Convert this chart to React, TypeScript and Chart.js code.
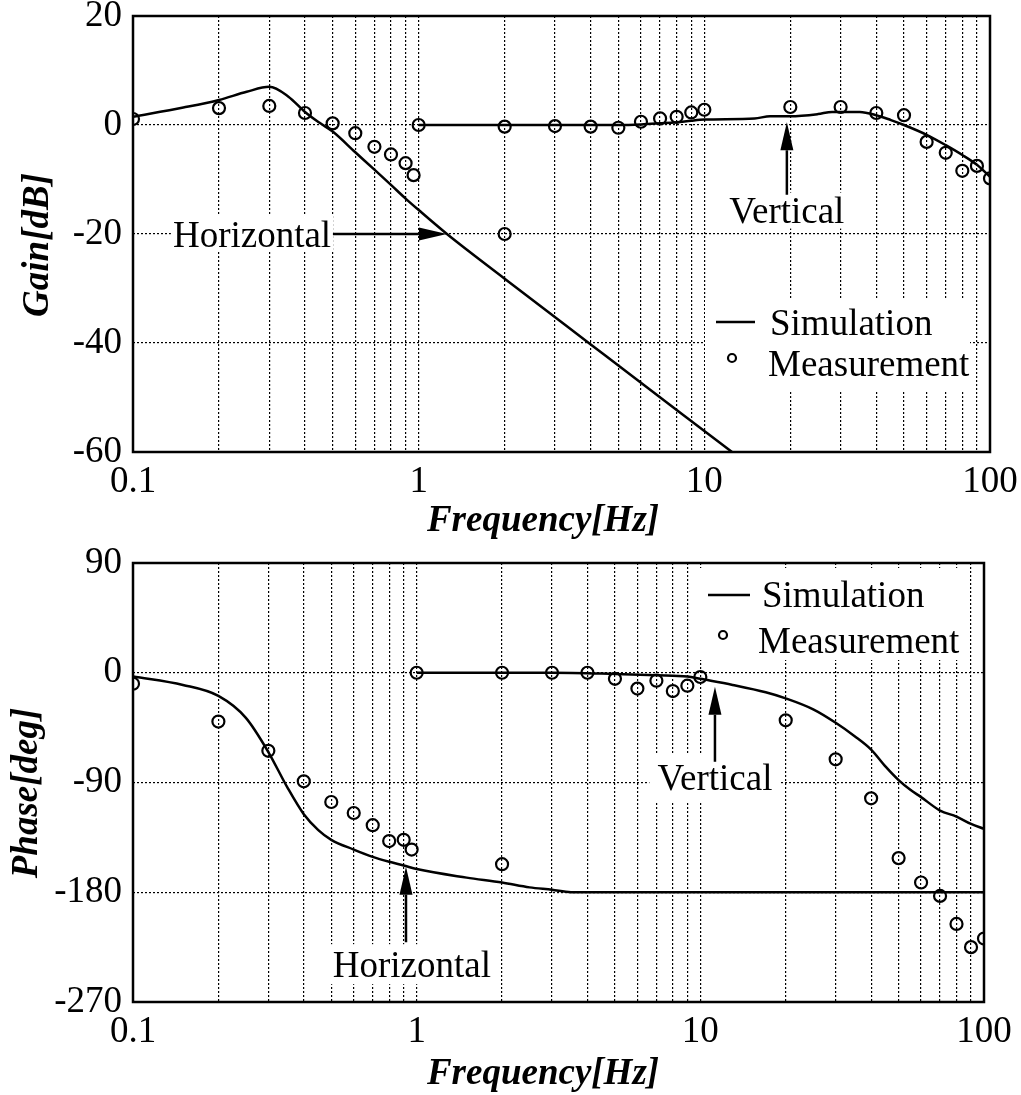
import React, { useEffect, useRef } from 'react';
import { Chart, registerables } from 'chart.js';

Chart.register(...registerables);

const SERIF = '"Liberation Serif", "Times New Roman", Times, serif';

// ---------- axes ----------
const xGridValues = [0.1, 0.2, 0.3, 0.4, 0.5, 0.6, 0.7, 0.8, 0.9, 1, 2, 3, 4, 5, 6, 7, 8, 9, 10, 20, 30, 40, 50, 60, 70, 80, 90, 100];
const xMajorValues = [0.1, 1, 10, 100];
const xTickLabels = ['0.1', '1', '10', '100'];
const gainTicks = [-60, -40, -20, 0, 20];
const phaseTicks = [-270, -180, -90, 0, 90];

// ---------- Gain: simulation ----------
const gainSimHFreq = [0.1, 0.15, 0.2, 0.25, 0.3, 0.35, 0.4, 0.45, 0.5, 0.6, 0.7, 0.8, 0.9, 1, 1.256, 2, 3.94, 8, 12.5];
const gainSimH = [1.5, 3.2, 4.6, 6.1, 7.0, 5.2, 2.4, 0.4, -1.2, -5.0, -8.2, -11.0, -13.5, -15.6, -20, -28.2, -40, -52.3, -60];
const gainSimVFreq = [1, 3, 5, 6, 7, 8, 9, 10, 15, 17, 20, 25, 28, 35, 40, 45, 50, 60, 70, 80, 90, 100];
const gainSimV = [0, 0, 0, 0.1, 0.3, 0.5, 0.8, 1.0, 1.2, 1.6, 1.6, 2.0, 2.4, 2.4, 1.8, 0.9, 0, -1.8, -3.7, -5.5, -7.3, -9.5];

// ---------- Gain: measurement ----------
const gainMeasHFreq = [0.1, 0.2, 0.3, 0.4, 0.5, 0.6, 0.7, 0.8, 0.9, 0.96, 2];
const gainMeasH = [1.1, 3.1, 3.5, 2.2, 0.3, -1.5, -4, -5.4, -7, -9.2, -20];
const gainMeasVFreq = [1, 2, 3, 4, 5, 6, 7, 8, 9, 10, 20, 30, 40, 50, 60, 70, 80, 90, 100];
const gainMeasV = [0, -0.3, -0.2, -0.3, -0.5, 0.6, 1.2, 1.5, 2.3, 2.8, 3.3, 3.3, 2.2, 1.8, -3.1, -5.1, -8.4, -7.5, -9.8];

// ---------- Phase: simulation ----------
const phaseSimHFreq = [0.1, 0.15, 0.2, 0.25, 0.3, 0.35, 0.4, 0.45, 0.5, 0.6, 0.7, 0.8, 0.9, 1, 1.5, 2, 2.5, 3, 3.5, 100];
const phaseSimH = [-3, -10, -19, -37, -65, -94, -116, -129, -137, -145, -151, -155, -158, -161, -168, -172, -176, -178, -180, -180];
const phaseSimVFreq = [1, 3, 5, 7, 9, 10, 13, 17, 20, 25, 30, 35, 40, 45, 50, 55, 60, 70, 80, 90, 100];
const phaseSimV = [0, 0, -1, -2, -3, -5, -10, -16, -21, -30, -41, -52, -63, -77, -88, -96, -102, -113, -118, -124, -128];

// ---------- Phase: measurement ----------
const phaseMeasHFreq = [0.1, 0.2, 0.3, 0.4, 0.5, 0.6, 0.7, 0.8, 0.9, 0.96, 2];
const phaseMeasH = [-9, -40, -64, -89, -106, -115, -125, -138, -137, -145, -157];
const phaseMeasVFreq = [1, 2, 3, 4, 5, 6, 7, 8, 9, 10, 20, 30, 40, 50, 60, 70, 80, 90, 100];
const phaseMeasV = [0, 0, 0, 0, -5, -13, -6.5, -15, -10.6, -3.5, -39, -71, -103, -152, -172, -183, -206, -225, -218];

// ---------- labels ----------
const legendLabels = ['Simulation', 'Measurement'];

const pts = (xs: number[], ys: number[]) => xs.map((x, i) => ({ x, y: ys[i] }));

type Annot = { text: string; tx: number; ty: number; ax0: number; ay0: number; ax1: number; ay1: number; padX: number; padY: number };

type Spec = {
  height: number;
  padTop: number;
  padRight: number;
  xAxisHeight: number;
  yMin: number;
  yMax: number;
  yTicks: number[];
  simH: { x: number; y: number }[];
  simV: { x: number; y: number }[];
  measH: { x: number; y: number }[];
  measV: { x: number; y: number }[];
  yTitle: string;
  yTitleX: number;
  yTitleY: number;
  xTitleX: number;
  xTitleY: number;
  annots: Annot[];
  legend: { box: number[]; line: number[]; simText: number[]; circle: number[]; measText: number[] };
};

function drawArrow(ctx: CanvasRenderingContext2D, x0: number, y0: number, x1: number, y1: number) {
  const len = Math.hypot(x1 - x0, y1 - y0);
  const ux = (x1 - x0) / len, uy = (y1 - y0) / len;
  const hl = 28, hw = 6.5;
  const bx = x1 - ux * hl, by = y1 - uy * hl;
  ctx.save();
  ctx.strokeStyle = '#000';
  ctx.fillStyle = '#000';
  ctx.lineWidth = 2.5;
  ctx.beginPath();
  ctx.moveTo(x0, y0);
  ctx.lineTo(bx, by);
  ctx.stroke();
  ctx.beginPath();
  ctx.moveTo(x1, y1);
  ctx.lineTo(bx - uy * hw, by + ux * hw);
  ctx.lineTo(bx + uy * hw, by - ux * hw);
  ctx.closePath();
  ctx.fill();
  ctx.restore();
}

function makeDecor(spec: Spec) {
  return {
    id: 'decor',
    beforeDatasetsDraw(chart: any) {
      const { ctx } = chart;
      const xs = chart.scales.x, ys = chart.scales.y;
      ctx.save();
      ctx.fillStyle = '#fff';
      ctx.font = `37px ${SERIF}`;
      for (const a of spec.annots) {
        const w = ctx.measureText(a.text).width;
        const cx = xs.getPixelForValue(a.tx), cy = ys.getPixelForValue(a.ty);
        ctx.fillRect(cx - w / 2 - a.padX, cy - 18 - a.padY, w + 2 * a.padX, 36 + 2 * a.padY);
      }
      const b = spec.legend.box;
      ctx.fillRect(b[0], b[1], b[2], b[3]);
      ctx.restore();
    },
    afterDraw(chart: any) {
      const { ctx, chartArea } = chart;
      const xs = chart.scales.x, ys = chart.scales.y;
      ctx.save();
      // frame
      ctx.strokeStyle = '#000';
      ctx.lineWidth = 2.5;
      ctx.strokeRect(chartArea.left, chartArea.top, chartArea.right - chartArea.left, chartArea.bottom - chartArea.top);
      // annotations
      ctx.fillStyle = '#000';
      ctx.font = `37px ${SERIF}`;
      ctx.textAlign = 'center';
      ctx.textBaseline = 'alphabetic';
      for (const a of spec.annots) {
        const cx = xs.getPixelForValue(a.tx), cy = ys.getPixelForValue(a.ty);
        ctx.fillText(a.text, cx, cy + 12.5);
        drawArrow(ctx, xs.getPixelForValue(a.ax0), ys.getPixelForValue(a.ay0), xs.getPixelForValue(a.ax1), ys.getPixelForValue(a.ay1));
      }
      // legend
      const L = spec.legend;
      ctx.strokeStyle = '#000';
      ctx.lineWidth = 2.5;
      ctx.beginPath();
      ctx.moveTo(L.line[0], L.line[2]);
      ctx.lineTo(L.line[1], L.line[2]);
      ctx.stroke();
      ctx.lineWidth = 2.2;
      ctx.beginPath();
      ctx.arc(L.circle[0], L.circle[1], 4, 0, Math.PI * 2);
      ctx.stroke();
      ctx.textAlign = 'left';
      ctx.fillText(legendLabels[0], L.simText[0], L.simText[1]);
      ctx.fillText(legendLabels[1], L.measText[0], L.measText[1]);
      // axis titles
      ctx.font = `italic bold 37px ${SERIF}`;
      ctx.textAlign = 'center';
      ctx.fillText('Frequency[Hz]', spec.xTitleX, spec.xTitleY);
      ctx.translate(spec.yTitleX, spec.yTitleY);
      ctx.rotate(-Math.PI / 2);
      ctx.fillText(spec.yTitle, 0, 0);
      ctx.restore();
    },
  };
}

function buildConfig(spec: Spec): any {
  const gridOpts = { color: '#000', lineWidth: 1.2, drawTicks: false };
  const borderOpts = { display: false, dash: [2, 2] };
  const tickFont = { family: SERIF, size: 37 };
  const simStyle = { showLine: true, borderColor: '#000', borderWidth: 2.5, pointRadius: 0, cubicInterpolationMode: 'monotone', fill: false };
  const measStyle = { showLine: false, pointRadius: 6, pointBorderWidth: 2.2, pointBorderColor: '#000', pointBackgroundColor: 'rgba(0,0,0,0)' };
  return {
    type: 'scatter',
    data: {
      datasets: [
        { data: spec.simH, ...simStyle },
        { data: spec.simV, ...simStyle },
        { data: spec.measH, ...measStyle },
        { data: spec.measV, ...measStyle },
      ],
    },
    options: {
      responsive: false,
      animation: false,
      devicePixelRatio: 1,
      events: [],
      layout: { padding: { top: spec.padTop, right: spec.padRight, left: 0, bottom: 0 } },
      plugins: { legend: { display: false }, tooltip: { enabled: false } },
      scales: {
        x: {
          type: 'logarithmic',
          min: 0.1,
          max: 100,
          afterBuildTicks: (s: any) => {
            s.ticks = xGridValues.map((v) => ({ value: v }));
          },
          afterFit: (s: any) => {
            s.height = spec.xAxisHeight;
            s.paddingLeft = 0;
            s.paddingRight = 0;
          },
          ticks: {
            autoSkip: false,
            maxRotation: 0,
            minRotation: 0,
            color: '#000',
            font: tickFont,
            padding: 8,
            callback: (v: number) => {
              const i = xMajorValues.findIndex((m) => Math.abs(m - v) < 1e-9);
              return i >= 0 ? xTickLabels[i] : '';
            },
          },
          grid: gridOpts,
          border: borderOpts,
        },
        y: {
          type: 'linear',
          min: spec.yMin,
          max: spec.yMax,
          afterBuildTicks: (s: any) => {
            s.ticks = spec.yTicks.map((v) => ({ value: v }));
          },
          afterFit: (s: any) => {
            s.width = 133;
            s.paddingTop = 0;
            s.paddingBottom = 0;
          },
          ticks: { color: '#000', font: tickFont, padding: 11, callback: (v: number) => String(v) },
          grid: gridOpts,
          border: borderOpts,
        },
      },
    },
    plugins: [makeDecor(spec)],
  };
}

const gainSpec: Spec = {
  height: 540,
  padTop: 16,
  padRight: 31,
  xAxisHeight: 88,
  yMin: -60,
  yMax: 20,
  yTicks: gainTicks,
  simH: pts(gainSimHFreq, gainSimH),
  simV: pts(gainSimVFreq, gainSimV),
  measH: pts(gainMeasHFreq, gainMeasH),
  measV: pts(gainMeasVFreq, gainMeasV),
  yTitle: 'Gain[dB]',
  yTitleX: 48,
  yTitleY: 245,
  xTitleX: 543,
  xTitleY: 531,
  annots: [
    { text: 'Horizontal', tx: 0.261, ty: -20, ax0: 0.501, ay0: -20, ax1: 1.256, ay1: -20, padX: 2, padY: 0 },
    { text: 'Vertical', tx: 19.45, ty: -15.7, ax0: 19.45, ay0: -12.8, ax1: 19.45, ay1: 0.5, padX: 4, padY: 0 },
  ],
  legend: { box: [705, 300, 265, 90], line: [716, 755, 322], simText: [770, 335], circle: [732, 358], measText: [768, 376] },
};

const phaseSpec: Spec = {
  height: 555,
  padTop: 23,
  padRight: 37,
  xAxisHeight: 93,
  yMin: -270,
  yMax: 90,
  yTicks: phaseTicks,
  simH: pts(phaseSimHFreq, phaseSimH),
  simV: pts(phaseSimVFreq, phaseSimV),
  measH: pts(phaseMeasHFreq, phaseMeasH),
  measV: pts(phaseMeasVFreq, phaseMeasV),
  yTitle: 'Phase[deg]',
  yTitleX: 37,
  yTitleY: 253,
  xTitleX: 543,
  xTitleY: 544,
  annots: [
    { text: 'Vertical', tx: 11.26, ty: -85.7, ax0: 11.26, ay0: -73, ax1: 11.26, ay1: -11.5, padX: 8, padY: 6 },
    { text: 'Horizontal', tx: 0.962, ty: -239, ax0: 0.917, ay0: -221, ax1: 0.917, ay1: -159, padX: 3, padY: 2 },
  ],
  legend: { box: [695, 28, 270, 92], line: [708, 750, 55], simText: [762, 67], circle: [723, 95], measText: [758, 113] },
};

function BodeChart({ spec }: { spec: Spec }) {
  const ref = useRef<HTMLCanvasElement>(null);
  useEffect(() => {
    const chart = new Chart(ref.current as HTMLCanvasElement, buildConfig(spec));
    return () => chart.destroy();
  }, [spec]);
  return <canvas ref={ref} width={1021} height={spec.height} style={{ display: 'block', width: 1021, height: spec.height }} />;
}

export default function App() {
  return (
    <div style={{ position: 'absolute', left: 0, top: 0, width: 1021, height: 1095, background: '#fff' }}>
      <BodeChart spec={gainSpec} />
      <BodeChart spec={phaseSpec} />
    </div>
  );
}
